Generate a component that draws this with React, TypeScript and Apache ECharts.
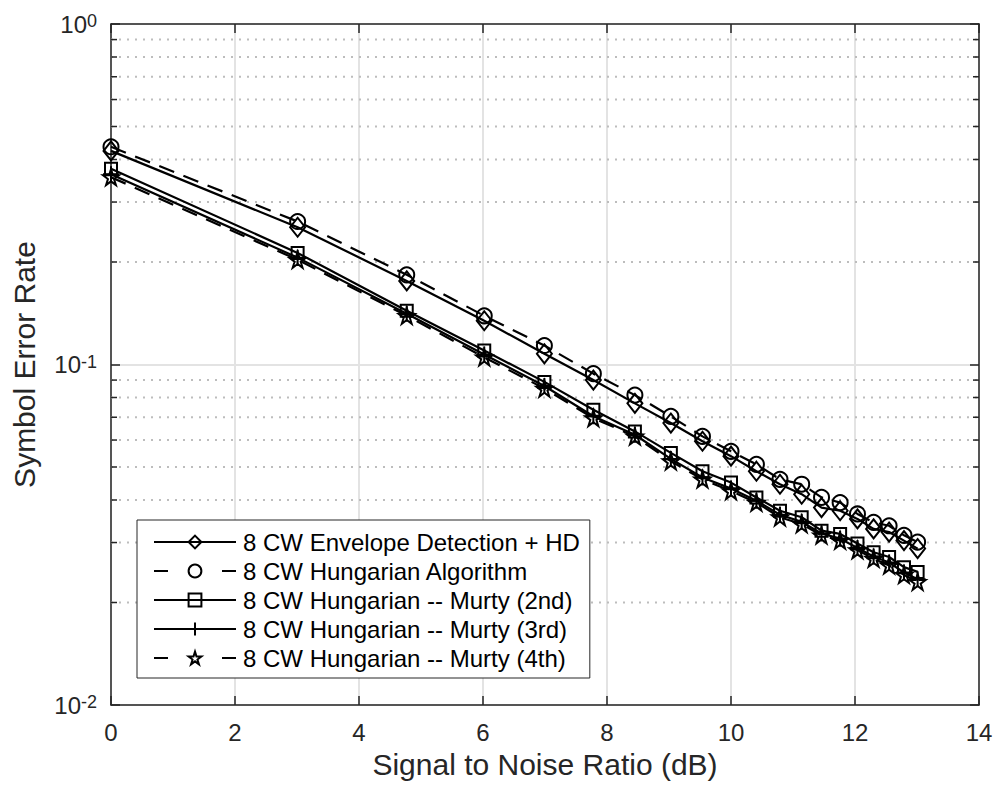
import React, { useEffect, useRef } from "react";
import * as echarts from "echarts";

const SNR_DB = [0, 3.01, 4.77, 6.02, 6.99, 7.78, 8.45, 9.03, 9.54, 10, 10.41, 10.79, 11.14, 11.46, 11.76, 12.04, 12.3, 12.55, 12.79, 13.01];

const ENVELOPE_HD = [0.424, 0.253, 0.176, 0.1344, 0.1075, 0.09, 0.0769, 0.0673, 0.0595, 0.0538, 0.0486, 0.0445, 0.0416, 0.038, 0.0372, 0.0352, 0.0329, 0.0322, 0.0304, 0.0288];
const HUNGARIAN = [0.436, 0.263, 0.1834, 0.139, 0.1137, 0.094, 0.0813, 0.0704, 0.0615, 0.0556, 0.0509, 0.046, 0.0445, 0.0407, 0.0393, 0.0364, 0.0344, 0.0336, 0.0315, 0.0301];
const MURTY_2ND = [0.376, 0.2126, 0.1438, 0.11, 0.0889, 0.0736, 0.0636, 0.055, 0.0486, 0.045, 0.0407, 0.0372, 0.0356, 0.0325, 0.0318, 0.0298, 0.0281, 0.0272, 0.0254, 0.0246];
const MURTY_3RD = [0.362, 0.206, 0.141, 0.107, 0.0865, 0.0705, 0.0622, 0.0528, 0.0466, 0.0432, 0.0398, 0.0362, 0.0345, 0.0319, 0.0308, 0.0289, 0.0273, 0.0262, 0.0245, 0.0234];
const MURTY_4TH = [0.355, 0.203, 0.139, 0.105, 0.085, 0.0696, 0.0615, 0.052, 0.046, 0.0425, 0.0393, 0.0356, 0.034, 0.0315, 0.0304, 0.0285, 0.0269, 0.0257, 0.0241, 0.023];

const SERIES_NAMES = [
  "8 CW Envelope Detection + HD",
  "8 CW Hungarian Algorithm",
  "8 CW Hungarian -- Murty (2nd)",
  "8 CW Hungarian -- Murty (3rd)",
  "8 CW Hungarian -- Murty (4th)",
];

const MINOR_Y_TICKS = [0.02, 0.03, 0.04, 0.05, 0.06, 0.07, 0.08, 0.09, 0.2, 0.3, 0.4, 0.5, 0.6, 0.7, 0.8, 0.9];

const X_AXIS_TITLE = "Signal to Noise Ratio (dB)";
const Y_AXIS_TITLE = "Symbol Error Rate";

const FONT = "'Liberation Sans', Arial, Helvetica, sans-serif";
const AXIS_COLOR = "#262626";
const STAR_PATH = "path://M50,2 L61.2,36.6 L97.6,36.6 L68.2,58 L79.4,92.6 L50,71.2 L20.6,92.6 L31.8,58 L2.4,36.6 L38.8,36.6 Z";
const PLUS_PATH = "path://M50,0 L50,100 M0,50 L100,50";

function pairs(ys: number[]) {
  return SNR_DB.map((x, i) => [x, ys[i]]);
}

export default function App() {
  const ref = useRef<HTMLDivElement>(null);
  useEffect(() => {
    if (!ref.current) return;
    const chart = echarts.init(ref.current, null, { renderer: "svg" });

    const markerItem = { color: "transparent", borderColor: "#000", borderWidth: 2 };
    const mk = (name: string, ys: number[], symbol: string, size: any, dashed: boolean) => ({
      name,
      type: "line",
      data: pairs(ys),
      symbol,
      symbolSize: size,
      showSymbol: true,
      z: 3,
      lineStyle: { color: "#000", width: 2.2, type: dashed ? [16, 10] : "solid" },
      itemStyle: markerItem,
      emphasis: { disabled: true },
    });

    const option: any = {
      animation: false,
      textStyle: { fontFamily: FONT },
      grid: { left: 111, right: 18, top: 19, bottom: 82, containLabel: false },
      legend: {
        orient: "vertical",
        left: 137,
        top: 520,
        padding: [10, 10, 8, 16],
        itemWidth: 82,
        itemHeight: 16,
        itemGap: 5,
        borderColor: AXIS_COLOR,
        borderWidth: 1,
        backgroundColor: "#fff",
        selectedMode: false,
        textStyle: { fontSize: 24, color: "#000", fontFamily: FONT, lineHeight: 24, padding: [0, 0, 0, 2] },
        data: [
          { name: SERIES_NAMES[0] },
          { name: SERIES_NAMES[1], lineStyle: { type: [14, 54] } },
          { name: SERIES_NAMES[2] },
          { name: SERIES_NAMES[3] },
          { name: SERIES_NAMES[4], lineStyle: { type: [14, 54] } },
        ],
      },
      xAxis: [
        {
          type: "value",
          position: "bottom",
          min: 0,
          max: 14,
          interval: 2,
          name: X_AXIS_TITLE,
          nameLocation: "middle",
          nameGap: 44,
          nameTextStyle: { fontSize: 30, color: AXIS_COLOR, fontFamily: FONT },
          axisLine: { onZero: false, lineStyle: { color: AXIS_COLOR, width: 1.5 } },
          axisTick: { inside: true, length: 9, lineStyle: { color: AXIS_COLOR, width: 1.5 } },
          axisLabel: { fontSize: 24, color: AXIS_COLOR, margin: 15, fontFamily: FONT },
          splitLine: { show: true, lineStyle: { color: "#e3e3e3", width: 2 } },
        },
        {
          type: "value",
          position: "top",
          min: 0,
          max: 14,
          interval: 2,
          axisLine: { onZero: false, lineStyle: { color: AXIS_COLOR, width: 1.5 } },
          axisTick: { inside: true, length: 9, lineStyle: { color: AXIS_COLOR, width: 1.5 } },
          axisLabel: { show: false },
          splitLine: { show: false },
        },
      ],
      yAxis: [
        {
          type: "log",
          logBase: 10,
          position: "left",
          min: 0.01,
          max: 1,
          splitNumber: 2,
          name: Y_AXIS_TITLE,
          nameLocation: "middle",
          nameRotate: 90,
          nameGap: 72,
          nameTextStyle: { fontSize: 30, color: AXIS_COLOR, fontFamily: FONT },
          axisLine: { onZero: false, lineStyle: { color: AXIS_COLOR, width: 1.5 } },
          axisTick: { inside: true, length: 9, lineStyle: { color: AXIS_COLOR, width: 1.5 } },
          axisLabel: {
            margin: 14,
            color: AXIS_COLOR,
            formatter: (v: number) => `{b|10}{s|${Math.round(Math.log10(v))}}`,
            rich: {
              b: { fontSize: 24, color: AXIS_COLOR, fontFamily: FONT, lineHeight: 24, padding: [12, 0, 0, 0], verticalAlign: "bottom" },
              s: { fontSize: 18, color: AXIS_COLOR, fontFamily: FONT, lineHeight: 18, verticalAlign: "top" },
            },
          },
          splitLine: { show: true, lineStyle: { color: "#e3e3e3", width: 2 } },
        },
        {
          type: "log",
          logBase: 10,
          position: "right",
          min: 0.01,
          max: 1,
          splitNumber: 2,
          axisLine: { onZero: false, lineStyle: { color: AXIS_COLOR, width: 1.5 } },
          axisTick: { inside: true, length: 9, lineStyle: { color: AXIS_COLOR, width: 1.5 } },
          axisLabel: { show: false },
          splitLine: { show: false },
        },
      ],
      series: [
        {
          type: "custom",
          name: "minor-grid",
          silent: true,
          z: 1,
          data: MINOR_Y_TICKS.map((v) => [0, v]),
          renderItem: (params: any, api: any) => {
            const y = api.coord([0, api.value(1)])[1];
            const cs = params.coordSys;
            return {
              type: "group",
              children: [
                {
                  type: "line",
                  shape: { x1: cs.x, y1: y, x2: cs.x + cs.width, y2: y },
                  style: { stroke: "#bdbdbd", lineWidth: 2, lineDash: [2, 6] },
                },
                {
                  type: "line",
                  shape: { x1: cs.x, y1: y, x2: cs.x + 6, y2: y },
                  style: { stroke: AXIS_COLOR, lineWidth: 1.5 },
                },
                {
                  type: "line",
                  shape: { x1: cs.x + cs.width - 6, y1: y, x2: cs.x + cs.width, y2: y },
                  style: { stroke: AXIS_COLOR, lineWidth: 1.5 },
                },
              ],
            };
          },
        },
        mk(SERIES_NAMES[0], ENVELOPE_HD, "diamond", [15, 19], false),
        mk(SERIES_NAMES[1], HUNGARIAN, "circle", 15, true),
        mk(SERIES_NAMES[2], MURTY_2ND, "rect", 12, false),
        mk(SERIES_NAMES[3], MURTY_3RD, PLUS_PATH, 16, false),
        mk(SERIES_NAMES[4], MURTY_4TH, STAR_PATH, 16, true),
      ],
    };
    chart.setOption(option);
    return () => chart.dispose();
  }, []);
  return (
    <div
      ref={ref}
      style={{ position: "fixed", left: 0, top: 0, width: 997, height: 787, background: "#fff" }}
    />
  );
}
